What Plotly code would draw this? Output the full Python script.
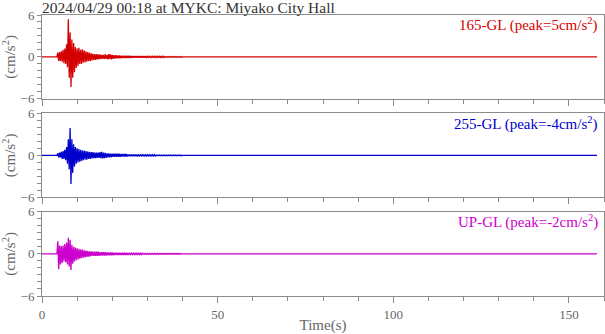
import plotly.graph_objects as go

# ---------------- data ----------------
title_text = "2024/04/29 00:18 at MYKC: Miyako City Hall"
components = ["165-GL", "255-GL", "UP-GL"]
peaks = [5, -4, -2]
colors = ["#d40000", "#0000cc", "#cc00cc"]

t_start, t_end = 0.0, 158.0
env_t0, env_dt = 4.0, 0.5   # envelope samples every 0.5 s from 4 s

# upper / lower envelopes (cm/s^2), 73 samples each: 4.0 .. 40.0 s
up_165 = [0.0, 0.6, 0.7, 0.8, 1.0, 1.2, 1.8, 5.4, 3.5, 2.5, 2.0, 1.4, 1.2, 1.3, 1.0, 1.1,
          0.9, 0.8, 0.7, 0.6, 0.5, 0.45, 0.4, 0.4, 0.35, 0.35, 0.3, 0.3, 0.35, 0.3, 0.4, 0.35,
          0.3, 0.25, 0.25, 0.2, 0.2, 0.15, 0.15, 0.15, 0.15, 0.15, 0.15, 0.12, 0.12, 0.12, 0.12,
          0.12, 0.12, 0.12, 0.12, 0.12, 0.08, 0.08, 0.08, 0.08, 0.08, 0.08, 0.08, 0.08, 0.08,
          0.08, 0.05, 0.05, 0.05, 0.05, 0.05, 0.05, 0.05, 0.05, 0.05, 0.05, 0.0]
lo_165 = [0.0, -0.6, -0.6, -0.7, -0.9, -1.0, -1.5, -3.0, -4.3, -3.0, -2.2, -1.6, -1.3, -1.0, -1.0, -0.8,
          -0.8, -0.7, -0.6, -0.6, -0.5, -0.45, -0.45, -0.35, -0.35, -0.3, -0.3, -0.3, -0.3, -0.35, -0.3, -0.35,
          -0.3, -0.25, -0.2, -0.2, -0.2, -0.15, -0.15, -0.15, -0.15, -0.15, -0.15, -0.1, -0.1, -0.1, -0.1,
          -0.1, -0.1, -0.1, -0.1, -0.1, -0.08, -0.08, -0.08, -0.08, -0.08, -0.08, -0.08, -0.08, -0.08,
          -0.08, -0.05, -0.05, -0.05, -0.05, -0.05, -0.05, -0.05, -0.05, -0.05, -0.05, 0.0]

up_255 = [0.0, 0.3, 0.4, 0.5, 0.6, 0.8, 1.2, 2.3, 3.9, 2.3, 1.6, 1.2, 1.0, 0.9, 0.8, 0.7,
          0.7, 0.6, 0.55, 0.5, 0.45, 0.45, 0.4, 0.4, 0.4, 0.45, 0.5, 0.4, 0.35, 0.3, 0.3, 0.25,
          0.25, 0.25, 0.25, 0.25, 0.25, 0.2, 0.2, 0.2, 0.2, 0.12, 0.12, 0.12, 0.12, 0.12, 0.12,
          0.08, 0.08, 0.08, 0.08, 0.08, 0.08, 0.08, 0.08, 0.08, 0.08, 0.05, 0.05, 0.05, 0.05,
          0.05, 0.05, 0.05, 0.05, 0.05, 0.05, 0.05, 0.05, 0.05, 0.05, 0.05, 0.0]
lo_255 = [0.0, -0.3, -0.3, -0.5, -0.5, -0.7, -1.2, -2.0, -4.1, -2.5, -1.6, -1.2, -1.0, -0.9, -0.8, -0.7,
          -0.6, -0.6, -0.5, -0.5, -0.45, -0.4, -0.4, -0.35, -0.35, -0.4, -0.45, -0.4, -0.35, -0.3, -0.3, -0.25,
          -0.2, -0.2, -0.2, -0.2, -0.2, -0.15, -0.15, -0.15, -0.15, -0.1, -0.1, -0.1, -0.1, -0.1, -0.1,
          -0.08, -0.08, -0.08, -0.08, -0.08, -0.08, -0.08, -0.08, -0.08, -0.08, -0.05, -0.05, -0.05, -0.05,
          -0.05, -0.05, -0.05, -0.05, -0.05, -0.05, -0.05, -0.05, -0.05, -0.05, -0.05, 0.0]

up_up = [0.0, 1.8, 1.2, 1.1, 1.2, 1.4, 1.6, 2.3, 2.0, 1.3, 1.0, 0.9, 0.8, 0.7, 0.6, 0.6,
         0.5, 0.45, 0.4, 0.35, 0.35, 0.3, 0.3, 0.3, 0.3, 0.25, 0.25, 0.25, 0.25, 0.2, 0.2, 0.2,
         0.2, 0.15, 0.15, 0.15, 0.15, 0.15, 0.15, 0.15, 0.15, 0.1, 0.1, 0.1, 0.1, 0.1, 0.1,
         0.1, 0.1, 0.07, 0.07, 0.07, 0.07, 0.07, 0.07, 0.07, 0.07, 0.07, 0.07, 0.04, 0.04, 0.04,
         0.04, 0.04, 0.04, 0.04, 0.04, 0.04, 0.04, 0.04, 0.04, 0.04, 0.0]
lo_up = [0.0, -2.2, -1.5, -1.3, -1.1, -1.2, -1.5, -1.8, -2.3, -1.4, -1.1, -0.9, -0.8, -0.7, -0.6, -0.55,
         -0.5, -0.45, -0.4, -0.35, -0.3, -0.3, -0.3, -0.3, -0.3, -0.25, -0.25, -0.25, -0.25, -0.2, -0.2, -0.2,
         -0.2, -0.15, -0.15, -0.15, -0.15, -0.15, -0.15, -0.15, -0.15, -0.1, -0.1, -0.1, -0.1, -0.1, -0.1,
         -0.1, -0.1, -0.07, -0.07, -0.07, -0.07, -0.07, -0.07, -0.07, -0.07, -0.07, -0.07, -0.04, -0.04, -0.04,
         -0.04, -0.04, -0.04, -0.04, -0.04, -0.04, -0.04, -0.04, -0.04, -0.04, 0.0]

uppers = [up_165, up_255, up_up]
lowers = [lo_165, lo_255, lo_up]

x_ticks = [0, 50, 100, 150]
y_ticks = [-6, 0, 6]

# ---------------- figure ----------------
FONT = "Liberation Serif"
GRAY = "#666666"
FRAME = "#8c8c8c"
FS = 15      # titles / annotations
FT = 13      # tick labels

fig = go.Figure()
domains = [[0.702, 1.0], [0.351, 0.650], [0.0, 0.300]]

for i in range(3):
    xs, ys = [t_start], [0.0]
    for k, (u, l) in enumerate(zip(uppers[i], lowers[i])):
        t = env_t0 + k * env_dt
        xs += [t, t + env_dt / 2]
        ys += [u, l]
    xs.append(t_end)
    ys.append(0.0)
    n = "" if i == 0 else str(i + 1)
    fig.add_trace(go.Scatter(x=xs, y=ys, mode="lines",
                             line=dict(color=colors[i], width=1.3),
                             xaxis="x" + n, yaxis="y" + n, showlegend=False,
                             hoverinfo="skip"))
    axis_common = dict(showline=True, mirror=True, linecolor=FRAME, linewidth=1,
                       showgrid=False, zeroline=False, ticks="outside",
                       tickcolor=FRAME, tickfont=dict(family=FONT, size=FT, color=GRAY))
    fig.layout["xaxis" + n] = dict(axis_common, range=[0, 160], tickvals=x_ticks,
                                   ticklen=6, showticklabels=(i == 2),
                                   minor=dict(dtick=10, ticklen=4, ticks="outside", tickcolor=FRAME),
                                   anchor="y" + n,
                                   **({} if i == 0 else {"matches": "x"}))
    fig.layout["yaxis" + n] = dict(axis_common, range=[-6, 6], tickvals=y_ticks,
                                   ticklen=4, domain=domains[i], anchor="x" + n,
                                   minor=dict(dtick=1, ticklen=4, ticks="outside", tickcolor=FRAME),
                                   title=dict(text="(cm/s<sup>2</sup>)", standoff=6,
                                              font=dict(family=FONT, size=FS, color=GRAY)))
    fig.add_annotation(xref="x" + n + " domain", yref="y" + n + " domain",
                       x=0.993, y=1.02, xanchor="right", yanchor="top", showarrow=False,
                       text=f"{components[i]} (peak={peaks[i]}cm/s<sup>2</sup>)",
                       font=dict(family=FONT, size=FS, color=colors[i]))

fig.layout.xaxis3.title = dict(text="Time(s)", standoff=2,
                               font=dict(family=FONT, size=FS, color=GRAY))

fig.add_annotation(xref="paper", yref="paper", x=0, y=1.0, xanchor="left", yanchor="bottom",
                   yshift=-3, xshift=-2, showarrow=False, text=title_text,
                   font=dict(family=FONT, size=15.5, color="#333333"))

fig.update_layout(width=605, height=334, margin=dict(l=42, r=1, t=15, b=38),
                  paper_bgcolor="white", plot_bgcolor="white")

fig.write_html("out.html")
